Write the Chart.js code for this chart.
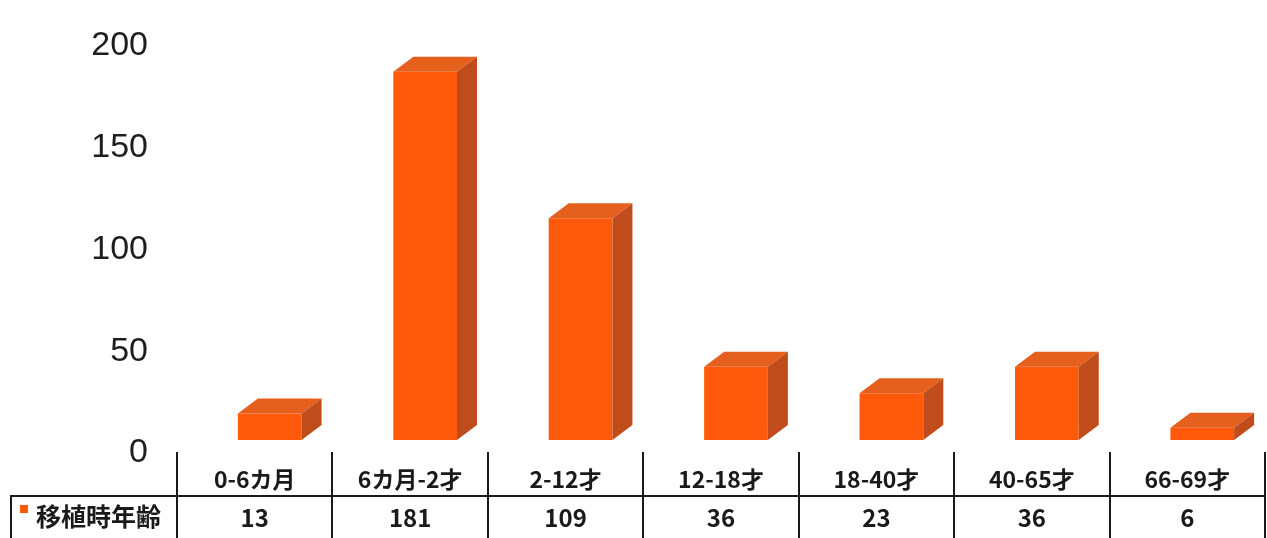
<!DOCTYPE html>
<html>
<head>
<meta charset="utf-8">
<script src="https://cdn.jsdelivr.net/npm/chart.js@4"></script>
<style>
  body { margin: 0; background: #fff; }
  #wrap { width: 1267px; height: 538px; }
</style>
</head>
<body>
<div id="wrap"><canvas id="myChart" width="1267" height="538"></canvas></div>
<script>
/* DATA */

const categories = ['0-6カ月', '6カ月-2才', '2-12才', '12-18才', '18-40才', '40-65才', '66-69才'];
const seriesName = '移植時年齢';
const values = [13, 181, 109, 36, 23, 36, 6];
const yTicks = [0, 50, 100, 150, 200];

/* 3D LOOK */

const frontColor = '#ff5a0c';
const topColor = '#e55f1d';
const sideColor = '#c04c1b';
const depthX = 20;
const depthY = 15;
const shiftX = 15;

const bar3d = {
  id: 'bar3d',
  beforeDatasetsDraw(chart) {
    chart.ctx.save();
    chart.ctx.translate(shiftX, 0);
  },
  afterDatasetsDraw(chart) {
    const ctx = chart.ctx;
    chart.getDatasetMeta(0).data.forEach(bar => {
      const l = bar.x - bar.width / 2;
      const r = bar.x + bar.width / 2;
      // top face
      ctx.fillStyle = topColor;
      ctx.beginPath();
      ctx.moveTo(l, bar.y);
      ctx.lineTo(l + depthX, bar.y - depthY);
      ctx.lineTo(r + depthX, bar.y - depthY);
      ctx.lineTo(r, bar.y);
      ctx.closePath();
      ctx.fill();
      // side face
      ctx.fillStyle = sideColor;
      ctx.beginPath();
      ctx.moveTo(r, bar.y);
      ctx.lineTo(r + depthX, bar.y - depthY);
      ctx.lineTo(r + depthX, bar.base - depthY);
      ctx.lineTo(r, bar.base);
      ctx.closePath();
      ctx.fill();
    });
    ctx.restore();
  }
};

/* DATA TABLE UNDER THE CHART */

const dataTable = {
  id: 'dataTable',
  afterDraw(chart) {
    const ctx = chart.ctx;
    const area = chart.chartArea;
    const step = area.width / categories.length;
    ctx.save();
    ctx.strokeStyle = '#1a1a1a';
    ctx.lineWidth = 2;
    ctx.beginPath();
    for (let i = 0; i <= categories.length; i++) {
      const x = Math.round(area.left + i * step);
      ctx.moveTo(x, 452);
      ctx.lineTo(x, 538);
    }
    ctx.moveTo(10, 496);
    ctx.lineTo(area.right, 496);
    ctx.moveTo(11, 496);
    ctx.lineTo(11, 538);
    ctx.stroke();

    ctx.fillStyle = '#1a1a1a';
    ctx.textAlign = 'center';
    ctx.textBaseline = 'middle';
    ctx.font = 'bold 23px "Noto Sans CJK JP"';
    categories.forEach((c, i) => {
      ctx.fillText(c, area.left + (i + 0.5) * step, 479);
    });
    ctx.font = 'bold 24px "Noto Sans CJK JP"';
    values.forEach((v, i) => {
      ctx.fillText(v, area.left + (i + 0.5) * step, 518);
    });

    ctx.fillStyle = frontColor;
    ctx.fillRect(20, 505, 8, 8);
    ctx.fillStyle = '#1a1a1a';
    ctx.textAlign = 'left';
    ctx.font = 'bold 25px "Noto Sans CJK JP"';
    ctx.fillText(seriesName, 36, 516);
    ctx.restore();
  }
};

/* CHART */

const ctx = document.getElementById('myChart').getContext('2d');
const myChart = new Chart(ctx, {
  type: 'bar',
  data: {
    labels: categories,
    datasets: [{
      label: seriesName,
      data: values,
      backgroundColor: frontColor,
      borderWidth: 0,
      barPercentage: 0.41,
      categoryPercentage: 1,
      clip: false
    }]
  },
  options: {
    responsive: false,
    animation: false,
    layout: { padding: { top: 33, bottom: 98, left: 0, right: 2 } },
    plugins: { legend: { display: false }, tooltip: { enabled: false } },
    scales: {
      x: { display: false },
      y: {
        min: 0,
        max: 200,
        afterBuildTicks: scale => { scale.ticks = yTicks.map(v => ({ value: v })); },
        afterFit: scale => {
          scale.width = 177;
          scale.paddingTop = 0;
          scale.paddingBottom = 0;
        },
        grid: { display: false, drawTicks: false },
        border: { display: false },
        ticks: {
          padding: 29,
          labelOffset: 13,
          color: '#1e1e1e',
          font: { family: '"Liberation Sans", Arial', size: 34 }
        }
      }
    }
  },
  plugins: [bar3d, dataTable]
});
</script>
</body>
</html>
